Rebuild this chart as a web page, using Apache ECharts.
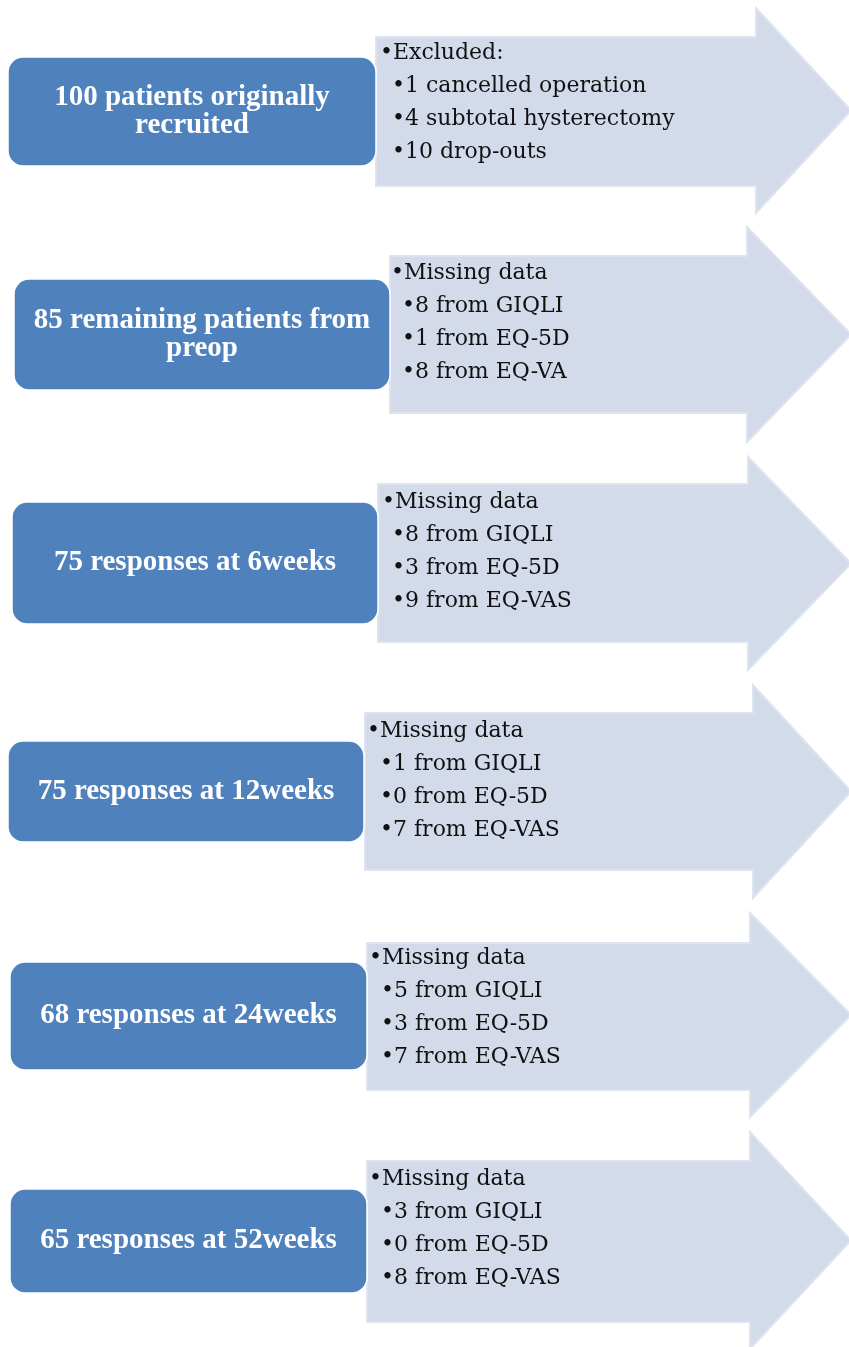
<!DOCTYPE html>
<html><head><meta charset="utf-8">
<script src="https://cdn.jsdelivr.net/npm/echarts@6/dist/echarts.min.js"></script>
<style>html,body{margin:0;padding:0;background:#fff}#c{width:849px;height:1347px}</style>
</head><body><div id="c"></div>
<script>
// ---- data ----
const boxLabels = [
  ["100 patients originally", "recruited"],
  ["85 remaining patients from", "preop"],
  ["75 responses at 6weeks"],
  ["75 responses at 12weeks"],
  ["68 responses at 24weeks"],
  ["65 responses at 52weeks"]
];
const arrowHeaders = ["Excluded:", "Missing data", "Missing data", "Missing data", "Missing data", "Missing data"];
const arrowItems = [
  ["1 cancelled operation", "4 subtotal hysterectomy", "10 drop-outs"],
  ["8 from GIQLI", "1 from EQ-5D", "8 from EQ-VA"],
  ["8 from GIQLI", "3 from EQ-5D", "9 from EQ-VAS"],
  ["1 from GIQLI", "0 from EQ-5D", "7 from EQ-VAS"],
  ["5 from GIQLI", "3 from EQ-5D", "7 from EQ-VAS"],
  ["3 from GIQLI", "0 from EQ-5D", "8 from EQ-VAS"]
];

// ---- layout (positions in canvas units) ----
const layout = [
  {box:[8,57,376,166],   arr:[376,37,186,756,8,213],      tx:[380,392,53]},
  {box:[14,279,390,390], arr:[390,256,413,747,227,442],   tx:[391,402,273]},
  {box:[12,502,378,624], arr:[378,484,642,748,457,670],   tx:[382,392,502]},
  {box:[8,741,364,842],  arr:[365,713,870,753,685,898],   tx:[367,380,731]},
  {box:[10,962,367,1070],arr:[367,943,1090,750,913,1117], tx:[369,381,958]},
  {box:[10,1189,367,1293],arr:[367,1161,1322,750,1132,1349], tx:[369,381,1179]}
];
const TIP_X = 851, LINE_STEP = 33;
const BOX_COLOR = '#4F81BD', ARROW_COLOR = '#D3DAEA', ARROW_EDGE = '#DDE3EF';
const BOX_FONT = 'bold 29px "Liberation Serif", serif';
const ARROW_FONT = '22px "DejaVu Serif", serif';

const chart = echarts.init(document.getElementById('c'), null, {renderer:'canvas'});

function renderItem(params, api) {
  const i = api.value(0);
  const L = layout[i];
  const P = (x, y) => api.coord([x, y]);
  const children = [];
  const [x0, bt, bb, hx, ht, hb] = L.arr;
  const mid = (ht + hb) / 2;
  children.push({
    type: 'polygon',
    shape: {points: [P(x0,bt), P(hx,bt), P(hx,ht), P(TIP_X,mid), P(hx,hb), P(hx,bb), P(x0,bb)]},
    style: {fill: ARROW_COLOR, stroke: ARROW_EDGE, lineWidth: 2}
  });
  const a = P(L.box[0], L.box[1]), b = P(L.box[2], L.box[3]);
  children.push({
    type: 'rect',
    shape: {x: a[0], y: a[1], width: b[0]-a[0], height: b[1]-a[1], r: 15},
    style: {fill: BOX_COLOR, stroke: '#ffffff', lineWidth: 1.5}
  });
  const lines = boxLabels[i];
  const cx = (a[0]+b[0])/2, cy = (a[1]+b[1])/2;
  lines.forEach((t, k) => {
    children.push({
      type: 'text',
      style: {text: t, x: cx, y: cy + (k - (lines.length-1)/2) * 28,
        fill: '#ffffff', font: BOX_FONT, align: 'center', verticalAlign: 'middle'}
    });
  });
  const [hxT, sxT, y0] = L.tx;
  const hp = P(hxT, y0);
  children.push({type:'text', style:{text: '\u2022' + arrowHeaders[i], x: hp[0], y: hp[1],
    fill:'#111', font: ARROW_FONT, align:'left', verticalAlign:'middle'}});
  arrowItems[i].forEach((t, k) => {
    const p = P(sxT, y0 + (k+1) * LINE_STEP);
    children.push({type:'text', style:{text: '\u2022' + t, x: p[0], y: p[1],
      fill:'#111', font: ARROW_FONT, align:'left', verticalAlign:'middle'}});
  });
  return {type: 'group', children};
}

chart.setOption({
  animation: false,
  grid: {left: 0, right: 0, top: 0, bottom: 0},
  xAxis: {type: 'value', min: 0, max: 849, show: false},
  yAxis: {type: 'value', min: 0, max: 1347, inverse: true, show: false},
  series: [{
    type: 'custom',
    renderItem,
    clip: false,
    data: boxLabels.map((_, i) => [i])
  }]
});
</script></body></html>
